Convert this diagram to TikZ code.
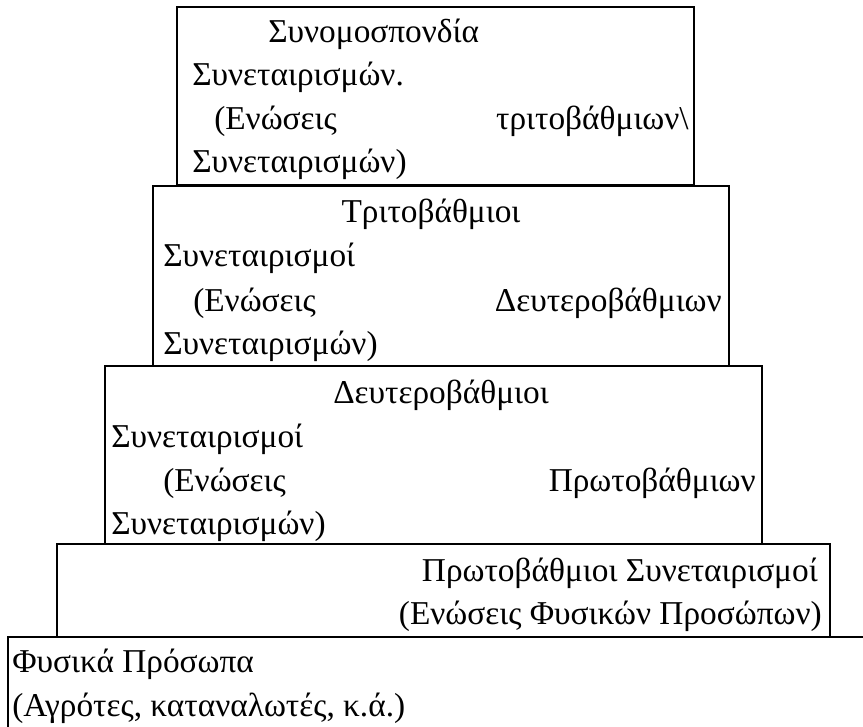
\documentclass[tikz,border=0pt]{standalone}
\usepackage{fontspec}
\setmainfont{Liberation Serif}

\tikzset{
  tier/.style={line width=1.8pt},
  txt/.style={inner sep=0pt,font=\fontsize{25}{30}\selectfont}
}

\begin{document}
\begin{tikzpicture}[x=0.75pt,y=0.75pt,yscale=-1,xscale=1]
	\useasboundingbox (0,0) rectangle (863,727);
	% boxes, top to bottom
	\draw [tier] (177,7) rectangle (694,185) ;
	\draw [tier] (153,186) rectangle (729,366) ;
	\draw [tier] (105,366) rectangle (762,544) ;
	\draw [tier] (57,544) rectangle (830,637) ;
	\draw [tier] (870,637) -- (8,637) -- (8,740) ;
	% top box
	\node (c1) [txt,anchor=base west] at (268,43) {Συνομοσπονδία};
	\node (c2) [txt,anchor=base west] at (192,86) {Συνεταιρισμών.};
	\node (c3) [txt,anchor=base west] at (214,130) {(Ενώσεις};
	\node (c3r) [txt,anchor=base east] at (689,130) {τριτοβάθμιων\textbackslash};
	\node (c4) [txt,anchor=base west] at (192,173) {Συνεταιρισμών)};
	% third level
	\node (t1) [txt,anchor=base] at (431,223) {Τριτοβάθμιοι};
	\node (t2) [txt,anchor=base west] at (163,267) {Συνεταιρισμοί};
	\node (t3) [txt,anchor=base west] at (193,311) {(Ενώσεις};
	\node (t3r) [txt,anchor=base east] at (722,311) {Δευτεροβάθμιων};
	\node (t4) [txt,anchor=base west] at (163,354) {Συνεταιρισμών)};
	% second level
	\node (d1) [txt,anchor=base] at (441,403) {Δευτεροβάθμιοι};
	\node (d2) [txt,anchor=base west] at (111,447) {Συνεταιρισμοί};
	\node (d3) [txt,anchor=base west] at (163,491) {(Ενώσεις};
	\node (d3r) [txt,anchor=base east] at (756,491) {Πρωτοβάθμιων};
	\node (d4) [txt,anchor=base west] at (111,534) {Συνεταιρισμών)};
	% first level
	\node (p1) [txt,anchor=base east] at (818,581) {Πρωτοβάθμιοι Συνεταιρισμοί};
	\node (p2) [txt,anchor=base east] at (822,624) {(Ενώσεις Φυσικών Προσώπων)};
	% base
	\node (f1) [txt,anchor=base west] at (12,672) {Φυσικά Πρόσωπα};
	\node (f2) [txt,anchor=base west] at (12,716) {(Αγρότες, καταναλωτές, κ.ά.)};
\end{tikzpicture}
\end{document}
